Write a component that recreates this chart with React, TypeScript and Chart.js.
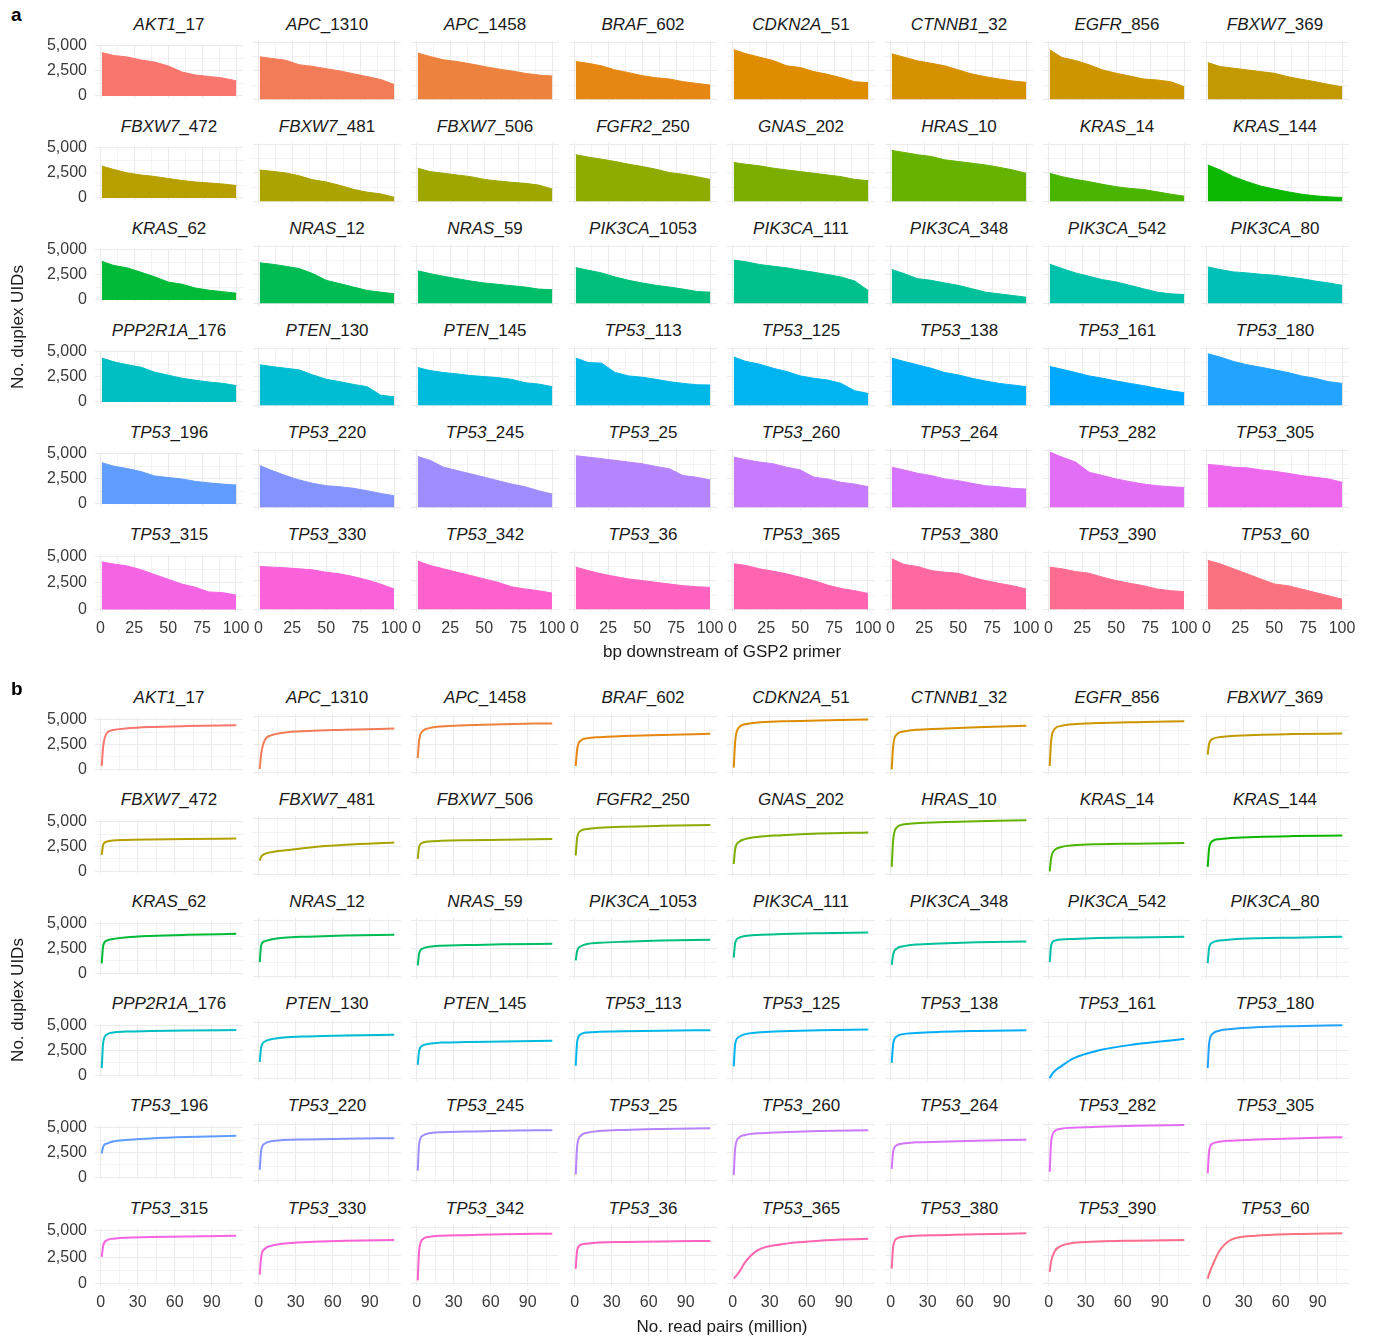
import React, { useEffect, useRef } from 'react';
import { Chart, registerables } from 'chart.js';

Chart.register(...registerables);

const FONT = '"Liberation Sans", Arial, Helvetica, sans-serif';

// ---------- data ----------
const facetNames = [
  'AKT1_17', 'APC_1310', 'APC_1458', 'BRAF_602', 'CDKN2A_51', 'CTNNB1_32', 'EGFR_856', 'FBXW7_369',
  'FBXW7_472', 'FBXW7_481', 'FBXW7_506', 'FGFR2_250', 'GNAS_202', 'HRAS_10', 'KRAS_14', 'KRAS_144',
  'KRAS_62', 'NRAS_12', 'NRAS_59', 'PIK3CA_1053', 'PIK3CA_111', 'PIK3CA_348', 'PIK3CA_542', 'PIK3CA_80',
  'PPP2R1A_176', 'PTEN_130', 'PTEN_145', 'TP53_113', 'TP53_125', 'TP53_138', 'TP53_161', 'TP53_180',
  'TP53_196', 'TP53_220', 'TP53_245', 'TP53_25', 'TP53_260', 'TP53_264', 'TP53_282', 'TP53_305',
  'TP53_315', 'TP53_330', 'TP53_342', 'TP53_36', 'TP53_365', 'TP53_380', 'TP53_390', 'TP53_60',
];

// panel a: bp downstream of GSP2 primer vs duplex UIDs
const coverageX = [1, 10, 20, 30, 40, 50, 60, 70, 80, 90, 100];
const coverageRow1 = [
  [4350, 4050, 3900, 3600, 3400, 3000, 2400, 2100, 1950, 1800, 1520],
  [3750, 3600, 3450, 3050, 2900, 2700, 2500, 2250, 2000, 1750, 1300],
  [4080, 3780, 3480, 3330, 3125, 2890, 2680, 2500, 2290, 2140, 2050],
  [3330, 3180, 2950, 2590, 2350, 2080, 1900, 1790, 1550, 1400, 1250],
  [4370, 4020, 3720, 3420, 2950, 2800, 2440, 2200, 1900, 1550, 1460],
  [4020, 3720, 3390, 3180, 2950, 2590, 2230, 1990, 1790, 1610, 1490],
  [4370, 3690, 3420, 3040, 2590, 2290, 2050, 1790, 1700, 1550, 1100],
  [3240, 2890, 2740, 2590, 2440, 2290, 1990, 1760, 1550, 1310, 1100],
];
const coverageRow2 = [
  [3200, 2850, 2500, 2300, 2150, 1950, 1750, 1600, 1500, 1400, 1250],
  [2750, 2650, 2500, 2250, 1900, 1700, 1400, 1050, 800, 650, 350],
  [2920, 2620, 2470, 2320, 2170, 1930, 1790, 1670, 1580, 1430, 1070],
  [4110, 3900, 3720, 3510, 3270, 3065, 2830, 2530, 2380, 2170, 1930],
  [3420, 3270, 3125, 2920, 2770, 2620, 2470, 2320, 2170, 1930, 1815],
  [4490, 4315, 4110, 3960, 3660, 3510, 3360, 3210, 3000, 2770, 2470],
  [2470, 2170, 1930, 1730, 1490, 1280, 1130, 1040, 830, 625, 450],
  [3210, 2770, 2170, 1730, 1340, 1070, 830, 625, 476, 387, 330],
];
const coverageRow3 = [
  [3870, 3450, 3210, 2770, 2320, 1790, 1580, 1190, 980, 830, 680],
  [3570, 3450, 3270, 3065, 2620, 2020, 1730, 1430, 1130, 980, 830],
  [2860, 2620, 2380, 2170, 1960, 1790, 1670, 1550, 1430, 1250, 1190],
  [3150, 2920, 2680, 2320, 2020, 1790, 1580, 1430, 1250, 1040, 980],
  [3810, 3660, 3420, 3270, 3125, 2920, 2740, 2530, 2320, 1960, 1130],
  [2980, 2620, 2170, 2020, 1790, 1580, 1280, 980, 830, 680, 530],
  [3450, 3070, 2680, 2380, 2080, 1880, 1580, 1280, 980, 830, 770],
  [3210, 2980, 2770, 2680, 2560, 2470, 2320, 2170, 1960, 1790, 1580],
];
const coverageRow4 = [
  [4400, 4020, 3720, 3480, 2980, 2680, 2380, 2170, 1990, 1870, 1640],
  [3570, 3420, 3270, 3125, 2680, 2290, 2080, 1840, 1640, 890, 740],
  [3330, 3065, 2890, 2770, 2620, 2530, 2440, 2290, 1990, 1870, 1640],
  [4170, 3780, 3720, 2890, 2590, 2470, 2290, 2080, 1930, 1810, 1790],
  [4260, 3870, 3630, 3270, 2980, 2590, 2380, 2230, 1930, 1280, 1040],
  [4170, 3870, 3570, 3270, 2890, 2680, 2380, 2140, 1930, 1790, 1640],
  [3420, 3180, 2890, 2590, 2380, 2140, 1930, 1730, 1490, 1280, 1100],
  [4550, 4260, 3870, 3570, 3360, 3125, 2890, 2590, 2380, 2080, 1930],
];
const coverageRow5 = [
  [4140, 3780, 3540, 3240, 2800, 2650, 2500, 2260, 2110, 1990, 1900],
  [3690, 3240, 2800, 2410, 2110, 1900, 1810, 1670, 1460, 1220, 1010],
  [4490, 4140, 3540, 3240, 2950, 2650, 2350, 2050, 1810, 1460, 1160],
  [4550, 4430, 4290, 4140, 3990, 3840, 3600, 3390, 2800, 2650, 2410],
  [4430, 4200, 3990, 3840, 3540, 3300, 2650, 2500, 2200, 2050, 1810],
  [3540, 3300, 3000, 2800, 2500, 2350, 2110, 1900, 1810, 1670, 1610],
  [4880, 4430, 3990, 3090, 2800, 2500, 2260, 2050, 1900, 1810, 1750],
  [3780, 3690, 3540, 3480, 3300, 3180, 3000, 2800, 2650, 2500, 2200],
];
const coverageRow6 = [
  [4460, 4260, 4080, 3720, 3270, 2830, 2380, 2080, 1640, 1580, 1340],
  [3780, 3720, 3660, 3570, 3480, 3270, 3125, 2890, 2590, 2230, 1790],
  [4260, 3870, 3570, 3270, 2980, 2680, 2380, 1990, 1790, 1640, 1430],
  [3720, 3420, 3125, 2890, 2680, 2530, 2380, 2230, 2080, 1990, 1930],
  [4020, 3870, 3570, 3360, 3125, 2830, 2530, 2140, 1840, 1640, 1400],
  [4460, 3960, 3780, 3420, 3270, 3180, 2830, 2530, 2290, 2080, 1790],
  [3720, 3570, 3330, 3180, 2830, 2530, 2290, 2080, 1790, 1640, 1550],
  [4320, 4020, 3570, 3125, 2680, 2230, 2080, 1790, 1490, 1190, 890],
];

// panel b: read pairs (million) vs duplex UIDs
const saturationX = [0.8, 2, 5, 10, 20, 40, 70, 110];
const saturationRow1 = [
  [350, 2300, 3650, 3950, 4100, 4250, 4350, 4420],
  [330, 1700, 2900, 3300, 3550, 3700, 3800, 3920],
  [1300, 2900, 3700, 3950, 4100, 4200, 4300, 4370],
  [600, 2100, 2850, 3050, 3150, 3250, 3350, 3450],
  [450, 2800, 4000, 4300, 4450, 4550, 4630, 4720],
  [300, 2400, 3400, 3650, 3800, 3900, 4020, 4150],
  [600, 2900, 3900, 4150, 4300, 4400, 4480, 4550],
  [1600, 2600, 3000, 3150, 3250, 3350, 3420, 3480],
];
const saturationRow2 = [
  [1650, 2700, 3000, 3100, 3150, 3200, 3250, 3300],
  [1250, 1600, 1850, 2000, 2150, 2400, 2650, 2850],
  [1400, 2500, 2850, 2950, 3000, 3050, 3100, 3170],
  [1700, 3300, 3900, 4050, 4150, 4250, 4330, 4400],
  [950, 2300, 2900, 3150, 3350, 3500, 3650, 3750],
  [700, 3100, 4200, 4450, 4550, 4650, 4730, 4820],
  [300, 1500, 2200, 2450, 2600, 2700, 2750, 2800],
  [700, 2400, 3000, 3150, 3250, 3350, 3420, 3470],
];
const saturationRow3 = [
  [1000, 2800, 3300, 3450, 3600, 3750, 3870, 3970],
  [1300, 2800, 3150, 3300, 3450, 3550, 3650, 3720],
  [1000, 2100, 2500, 2650, 2750, 2800, 2870, 2920],
  [1450, 2300, 2700, 2900, 3000, 3100, 3200, 3270],
  [1700, 3000, 3450, 3600, 3700, 3780, 3850, 3920],
  [1050, 2000, 2500, 2700, 2850, 2950, 3050, 3130],
  [1300, 2800, 3200, 3300, 3350, 3420, 3480, 3540],
  [1200, 2600, 3050, 3200, 3300, 3400, 3460, 3530],
];
const saturationRow4 = [
  [730, 3300, 4100, 4300, 4400, 4450, 4500, 4550],
  [1480, 2800, 3300, 3500, 3650, 3750, 3830, 3890],
  [1230, 2500, 2950, 3100, 3200, 3250, 3300, 3370],
  [1150, 3300, 3950, 4100, 4150, 4200, 4250, 4300],
  [1100, 3100, 3700, 3950, 4100, 4200, 4300, 4360],
  [1400, 3100, 3750, 3950, 4050, 4150, 4230, 4300],
  [50, 300, 700, 1100, 1800, 2500, 3050, 3520],
  [950, 3200, 4000, 4250, 4400, 4550, 4650, 4730],
];
const saturationRow5 = [
  [2400, 3100, 3400, 3600, 3750, 3900, 4050, 4180],
  [970, 2700, 3300, 3500, 3600, 3650, 3710, 3770],
  [880, 3300, 4000, 4200, 4300, 4350, 4420, 4480],
  [550, 3100, 4000, 4250, 4400, 4500, 4580, 4650],
  [500, 2900, 3800, 4050, 4200, 4300, 4400, 4470],
  [1050, 2600, 3150, 3300, 3400, 3450, 3550, 3630],
  [800, 3500, 4400, 4600, 4700, 4780, 4860, 4930],
  [650, 2700, 3300, 3450, 3550, 3650, 3750, 3850],
];
const saturationRow6 = [
  [2550, 3600, 4100, 4250, 4350, 4400, 4460, 4530],
  [800, 2400, 3100, 3350, 3550, 3700, 3800, 3880],
  [300, 3000, 3950, 4150, 4250, 4300, 4380, 4430],
  [1330, 3000, 3450, 3550, 3650, 3700, 3750, 3790],
  [450, 600, 1000, 1900, 2950, 3500, 3800, 3980],
  [1350, 3300, 4000, 4150, 4250, 4300, 4380, 4460],
  [1060, 2000, 2900, 3350, 3620, 3740, 3810, 3880],
  [450, 900, 1700, 2850, 3900, 4250, 4400, 4480],
];

// tick labels
const coverageXTicks = [0, 25, 50, 75, 100];
const coverageXMinor = [12.5, 37.5, 62.5, 87.5];
const saturationXTicks = [0, 30, 60, 90];
const saturationXMinor = [15, 45, 75, 105];
const yTicks = [0, 2500, 5000];
const yMinor = [1250, 3750];

// ---------- styles ----------
const GRID = '#EBEBEB';
const TICK_COLOR = '#3a3a3a';
const TITLE_COLOR = '#1a1a1a';
const PW = 148;
const PH = 61;
const M = 14;
const colLeft = (c: number) => 95 + 158 * c;

// ggplot2 default hue palette (hcl, c = 100, l = 65)
function hclHex(h: number, c: number, l: number): string {
  const hr = (h * Math.PI) / 180;
  const u = c * Math.cos(hr);
  const v = c * Math.sin(hr);
  const Xn = 95.047, Yn = 100, Zn = 108.883;
  const d = Xn + 15 * Yn + 3 * Zn;
  const un = (4 * Xn) / d, vn = (9 * Yn) / d;
  const Y = Yn * Math.pow((l + 16) / 116, 3);
  const up = u / (13 * l) + un;
  const vp = v / (13 * l) + vn;
  const X = (Y * 9 * up) / (4 * vp);
  const Z = (Y * (12 - 3 * up - 20 * vp)) / (4 * vp);
  const x = X / 100, y = Y / 100, z = Z / 100;
  const lin = [
    3.2404542 * x - 1.5371385 * y - 0.4985314 * z,
    -0.969266 * x + 1.8760108 * y + 0.041556 * z,
    0.0556434 * x - 0.2040259 * y + 1.0572252 * z,
  ];
  return (
    '#' +
    lin
      .map((t) => {
        const g = t <= 0.0031308 ? 12.92 * t : 1.055 * Math.pow(t, 1 / 2.4) - 0.055;
        const k = Math.round(Math.max(0, Math.min(1, g)) * 255);
        return k.toString(16).padStart(2, '0');
      })
      .join('')
  );
}
const palette = facetNames.map((_, i) => hclHex(15 + (360 / 48) * i, 100, 65));

type PanelKey = 'a' | 'b';
const PANELS: Record<PanelKey, any> = {
  a: {
    rows: [coverageRow1, coverageRow2, coverageRow3, coverageRow4, coverageRow5, coverageRow6],
    xs: coverageX,
    xMin: -3.95,
    xMax: 104.95,
    yMin: -245,
    yMax: 5145,
    xMajor: coverageXTicks,
    xMinor: coverageXMinor,
    top0: 41,
    pitch: 102,
  },
  b: {
    rows: [saturationRow1, saturationRow2, saturationRow3, saturationRow4, saturationRow5, saturationRow6],
    xs: saturationX,
    xMin: -4.66,
    xMax: 115.46,
    yMin: -200,
    yMax: 5200,
    xMajor: saturationXTicks,
    xMinor: saturationXMinor,
    top0: 714,
    pitch: 102.1,
  },
};

const rowTop = (p: PanelKey, r: number) => Math.round(PANELS[p].top0 + PANELS[p].pitch * r);

function Facet({ panel, index }: { panel: PanelKey; index: number }) {
  const ref = useRef<HTMLCanvasElement | null>(null);
  const cfg = PANELS[panel];
  const col = index % 8;
  const row = Math.floor(index / 8);
  const isLeft = col === 0;
  const isBottom = row === 5;
  const yAxisW = isLeft ? 70 : 0;
  const xAxisH = isBottom ? 32 : 0;
  const left = colLeft(col) - M - yAxisW;
  const top = rowTop(panel, row) - M;
  const w = M + yAxisW + PW + M;
  const h = M + PH + xAxisH + M;
  const values: number[] = cfg.rows[row][col];
  const color = palette[index];

  useEffect(() => {
    if (!ref.current) return;
    const majorX = new Set<number>(cfg.xMajor);
    const majorY = new Set<number>(yTicks);
    const allX = [...cfg.xMajor, ...cfg.xMinor].sort((p: number, q: number) => p - q);
    const allY = [...yTicks, ...yMinor].sort((p, q) => p - q);
    const chart = new Chart(ref.current, {
      type: 'line',
      data: {
        datasets: [
          {
            data: cfg.xs.map((x: number, i: number) => ({ x, y: values[i] })),
            borderColor: color,
            backgroundColor: color,
            borderWidth: panel === 'a' ? 1 : 2,
            fill: panel === 'a' ? 'origin' : false,
            pointRadius: 0,
            pointHoverRadius: 0,
            tension: 0,
            cubicInterpolationMode: panel === 'b' ? 'monotone' : 'default',
            borderJoinStyle: 'round',
          } as any,
        ],
      },
      options: {
        responsive: false,
        maintainAspectRatio: false,
        animation: false,
        devicePixelRatio: 1,
        events: [],
        layout: { padding: { left: M, right: M, top: M, bottom: M } },
        plugins: { legend: { display: false }, tooltip: { enabled: false }, title: { display: false } },
        scales: {
          x: {
            type: 'linear',
            min: cfg.xMin,
            max: cfg.xMax,
            border: { display: false },
            grid: {
              drawTicks: false,
              color: GRID,
              lineWidth: (c: any) => (majorX.has(c.tick?.value) ? 1.1 : 0.6),
            },
            ticks: {
              display: isBottom,
              autoSkip: false,
              maxRotation: 0,
              minRotation: 0,
              padding: 7,
              color: TICK_COLOR,
              font: { family: FONT, size: 16 },
              callback: (v: any) => (majorX.has(Number(v)) ? String(v) : ''),
            },
            afterBuildTicks: (s: any) => {
              s.ticks = allX.map((v: number) => ({ value: v }));
            },
            afterFit: (s: any) => {
              s.height = xAxisH;
            },
          },
          y: {
            type: 'linear',
            min: cfg.yMin,
            max: cfg.yMax,
            border: { display: false },
            grid: {
              drawTicks: false,
              color: GRID,
              lineWidth: (c: any) => (majorY.has(c.tick?.value) ? 1.1 : 0.6),
            },
            ticks: {
              display: isLeft,
              autoSkip: false,
              padding: 8,
              color: TICK_COLOR,
              font: { family: FONT, size: 16 },
              callback: (v: any) => (majorY.has(Number(v)) ? Number(v).toLocaleString('en-US') : ''),
            },
            afterBuildTicks: (s: any) => {
              s.ticks = allY.map((v) => ({ value: v }));
            },
            afterFit: (s: any) => {
              s.width = yAxisW;
            },
          },
        },
      } as any,
    });
    return () => chart.destroy();
  }, []);

  return (
    <canvas
      ref={ref}
      width={w}
      height={h}
      style={{ position: 'absolute', left, top, width: w, height: h }}
    />
  );
}

function FacetTitle({ panel, index }: { panel: PanelKey; index: number }) {
  const name = facetNames[index];
  const cut = name.indexOf('_');
  const gene = name.slice(0, cut);
  const suffix = name.slice(cut);
  const col = index % 8;
  const row = Math.floor(index / 8);
  return (
    <div
      style={{
        position: 'absolute',
        left: colLeft(col) - 10,
        width: PW + 20,
        top: rowTop(panel, row) - 27,
        height: 22,
        lineHeight: '22px',
        textAlign: 'center',
        fontSize: 17,
        color: TITLE_COLOR,
        whiteSpace: 'nowrap',
      }}
    >
      <span style={{ fontStyle: 'italic' }}>{gene}</span>
      <span>{suffix}</span>
    </div>
  );
}

function PanelBlock({ panel, xTitle }: { panel: PanelKey; xTitle: string }) {
  const top0 = rowTop(panel, 0);
  const bottom = rowTop(panel, 5) + PH;
  const midY = (top0 + bottom) / 2;
  const xTitleY = panel === 'a' ? 652 : 1327;
  return (
    <>
      <div
        style={{
          position: 'absolute',
          left: 11,
          top: panel === 'a' ? 4 : 678,
          fontSize: 19,
          fontWeight: 'bold',
          lineHeight: '22px',
          color: '#000',
        }}
      >
        {panel}
      </div>
      {facetNames.map((_, i) => (
        <FacetTitle key={'t' + i} panel={panel} index={i} />
      ))}
      {facetNames.map((_, i) => (
        <Facet key={'f' + i} panel={panel} index={i} />
      ))}
      <div
        style={{
          position: 'absolute',
          left: 18 - 150,
          top: midY - 11,
          width: 300,
          height: 22,
          lineHeight: '22px',
          textAlign: 'center',
          fontSize: 17,
          color: TITLE_COLOR,
          transform: 'rotate(-90deg)',
        }}
      >
        No. duplex UIDs
      </div>
      <div
        style={{
          position: 'absolute',
          left: colLeft(0),
          width: colLeft(7) + PW - colLeft(0),
          top: xTitleY - 11,
          height: 22,
          lineHeight: '22px',
          textAlign: 'center',
          fontSize: 17,
          color: TITLE_COLOR,
        }}
      >
        {xTitle}
      </div>
    </>
  );
}

export default function App() {
  return (
    <div
      style={{
        position: 'absolute',
        left: 0,
        top: 0,
        width: 1374,
        height: 1338,
        background: '#ffffff',
        fontFamily: FONT,
        overflow: 'hidden',
      }}
    >
      <PanelBlock panel="a" xTitle="bp downstream of GSP2 primer" />
      <PanelBlock panel="b" xTitle="No. read pairs (million)" />
    </div>
  );
}
